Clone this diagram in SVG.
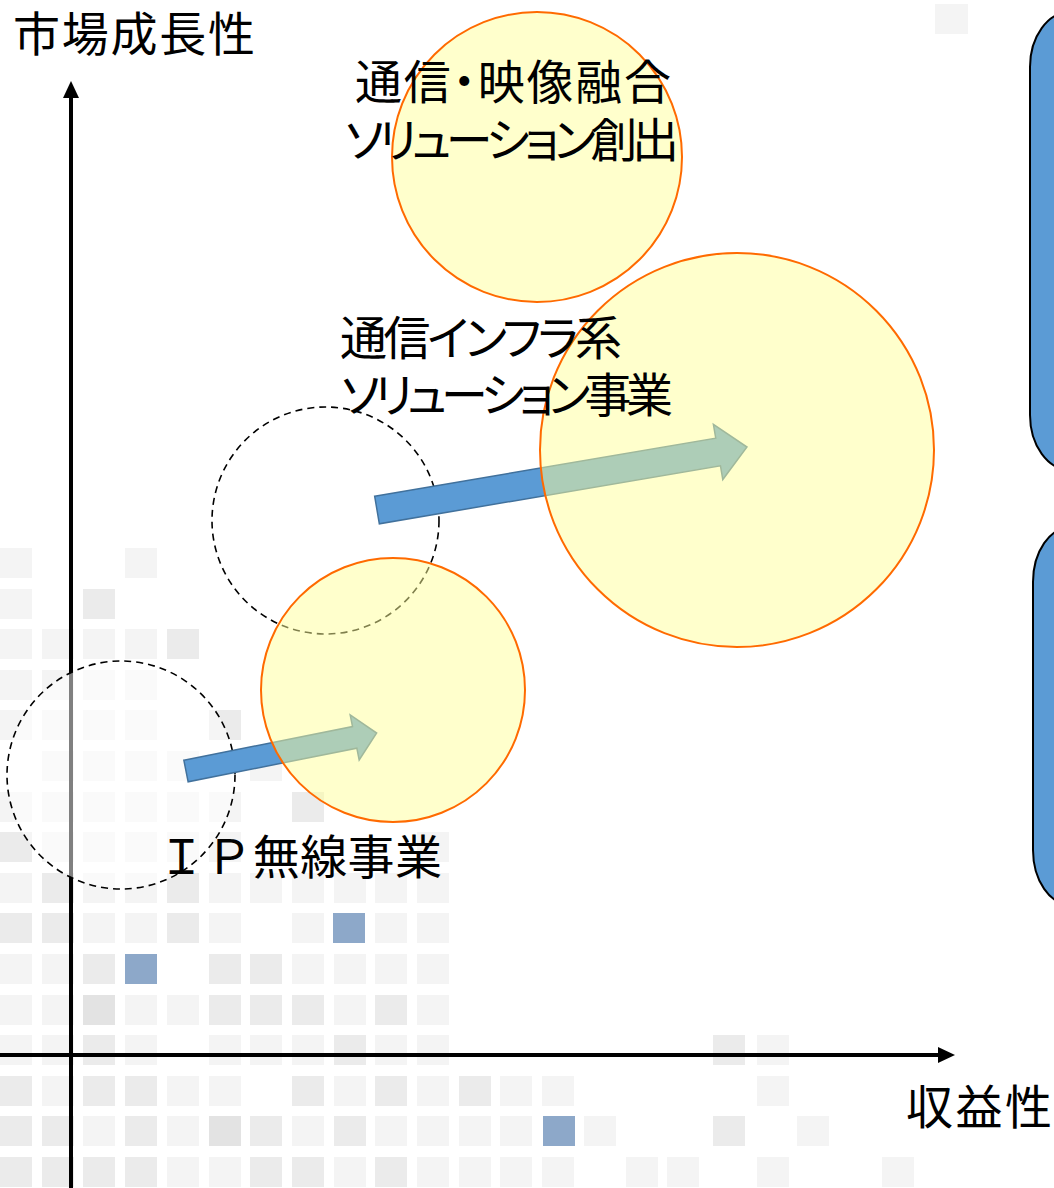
<svg xmlns="http://www.w3.org/2000/svg" width="1054" height="1188" viewBox="0 0 1054 1188">
<style>
.l{fill:#F4F4F4}.g{fill:#EBEBEB}.d{fill:#E3E3E3}.b{fill:#8DA8C9}
.dash{fill:#FFFFFF;fill-opacity:0.5;stroke:#000;stroke-width:1.6;stroke-dasharray:7 5}
.sun{fill:#FFFF99;fill-opacity:0.5;stroke:#FF6A00;stroke-width:2}
.arr{fill:#5B9BD5;stroke:#41719C;stroke-width:1.5}
.box{fill:#5B9BD5;stroke:#000;stroke-width:2}
text{font-family:"Noto Sans CJK JP","Noto Sans CJK SC",sans-serif;font-size:47px;fill:#000}
.p{font-feature-settings:"palt"}
</style>
<rect width="1054" height="1188" fill="#FFFFFF"/>
<g id="background-grid">
<rect class="l" x="935" y="4" width="33" height="30"/>
<g transform="translate(0,548)">
<rect class="l" x="0" y="0" width="32" height="30"/><rect class="l" x="125" y="0" width="32" height="30"/>
</g>
<g transform="translate(0,589)">
<rect class="l" x="0" y="0" width="32" height="30"/><rect class="g" x="83" y="0" width="32" height="30"/>
</g>
<g transform="translate(0,629)">
<rect class="l" x="0" y="0" width="32" height="30"/><rect class="l" x="42" y="0" width="32" height="30"/><rect class="l" x="83" y="0" width="32" height="30"/><rect class="l" x="125" y="0" width="32" height="30"/><rect class="g" x="167" y="0" width="32" height="30"/>
</g>
<g transform="translate(0,670)">
<rect class="l" x="0" y="0" width="32" height="30"/><rect class="l" x="42" y="0" width="32" height="30"/><rect class="l" x="83" y="0" width="32" height="30"/><rect class="l" x="125" y="0" width="32" height="30"/>
</g>
<g transform="translate(0,710)">
<rect class="l" x="0" y="0" width="32" height="30"/><rect class="l" x="42" y="0" width="32" height="30"/><rect class="l" x="83" y="0" width="32" height="30"/><rect class="l" x="125" y="0" width="32" height="30"/><rect class="g" x="209" y="0" width="32" height="30"/>
</g>
<g transform="translate(0,751)">
<rect class="l" x="42" y="0" width="32" height="30"/><rect class="l" x="83" y="0" width="32" height="30"/><rect class="l" x="125" y="0" width="32" height="30"/><rect class="l" x="167" y="0" width="32" height="30"/><rect class="l" x="250" y="0" width="32" height="30"/>
</g>
<g transform="translate(0,792)">
<rect class="l" x="0" y="0" width="32" height="30"/><rect class="l" x="42" y="0" width="32" height="30"/><rect class="l" x="83" y="0" width="32" height="30"/><rect class="l" x="125" y="0" width="32" height="30"/><rect class="l" x="167" y="0" width="32" height="30"/><rect class="l" x="209" y="0" width="32" height="30"/><rect class="g" x="292" y="0" width="32" height="30"/>
</g>
<g transform="translate(0,832)">
<rect class="g" x="0" y="0" width="32" height="30"/><rect class="l" x="42" y="0" width="32" height="30"/><rect class="l" x="83" y="0" width="32" height="30"/><rect class="l" x="125" y="0" width="32" height="30"/><rect class="l" x="167" y="0" width="32" height="30"/><rect class="l" x="209" y="0" width="32" height="30"/><rect class="l" x="417" y="0" width="32" height="30"/>
</g>
<g transform="translate(0,873)">
<rect class="l" x="0" y="0" width="32" height="30"/><rect class="g" x="42" y="0" width="32" height="30"/><rect class="l" x="83" y="0" width="32" height="30"/><rect class="l" x="125" y="0" width="32" height="30"/><rect class="g" x="167" y="0" width="32" height="30"/><rect class="l" x="209" y="0" width="32" height="30"/><rect class="l" x="250" y="0" width="32" height="30"/><rect class="l" x="292" y="0" width="32" height="30"/><rect class="l" x="334" y="0" width="32" height="30"/><rect class="l" x="375" y="0" width="32" height="30"/><rect class="l" x="417" y="0" width="32" height="30"/>
</g>
<g transform="translate(0,913)">
<rect class="g" x="0" y="0" width="32" height="30"/><rect class="g" x="42" y="0" width="32" height="30"/><rect class="l" x="83" y="0" width="32" height="30"/><rect class="l" x="125" y="0" width="32" height="30"/><rect class="g" x="167" y="0" width="32" height="30"/><rect class="l" x="209" y="0" width="32" height="30"/><rect class="l" x="292" y="0" width="32" height="30"/><rect class="b" x="333" y="0" width="32" height="30"/><rect class="l" x="375" y="0" width="32" height="30"/><rect class="l" x="417" y="0" width="32" height="30"/>
</g>
<g transform="translate(0,954)">
<rect class="l" x="0" y="0" width="32" height="30"/><rect class="l" x="42" y="0" width="32" height="30"/><rect class="g" x="83" y="0" width="32" height="30"/><rect class="b" x="125" y="0" width="32" height="30"/><rect class="g" x="209" y="0" width="32" height="30"/><rect class="g" x="250" y="0" width="32" height="30"/><rect class="l" x="292" y="0" width="32" height="30"/><rect class="l" x="334" y="0" width="32" height="30"/><rect class="l" x="375" y="0" width="32" height="30"/><rect class="l" x="417" y="0" width="32" height="30"/>
</g>
<g transform="translate(0,995)">
<rect class="l" x="0" y="0" width="32" height="30"/><rect class="l" x="42" y="0" width="32" height="30"/><rect class="d" x="83" y="0" width="32" height="30"/><rect class="l" x="125" y="0" width="32" height="30"/><rect class="l" x="167" y="0" width="32" height="30"/><rect class="g" x="209" y="0" width="32" height="30"/><rect class="g" x="250" y="0" width="32" height="30"/><rect class="g" x="292" y="0" width="32" height="30"/><rect class="l" x="334" y="0" width="32" height="30"/><rect class="g" x="375" y="0" width="32" height="30"/><rect class="l" x="417" y="0" width="32" height="30"/>
</g>
<g transform="translate(0,1035)">
<rect class="l" x="0" y="0" width="32" height="30"/><rect class="l" x="42" y="0" width="32" height="30"/><rect class="g" x="83" y="0" width="32" height="30"/><rect class="l" x="125" y="0" width="32" height="30"/><rect class="l" x="209" y="0" width="32" height="30"/><rect class="l" x="250" y="0" width="32" height="30"/><rect class="l" x="292" y="0" width="32" height="30"/><rect class="g" x="334" y="0" width="32" height="30"/><rect class="l" x="375" y="0" width="32" height="30"/><rect class="l" x="417" y="0" width="32" height="30"/><rect class="g" x="713" y="0" width="32" height="30"/><rect class="l" x="757" y="0" width="32" height="30"/>
</g>
<g transform="translate(0,1076)">
<rect class="g" x="0" y="0" width="32" height="30"/><rect class="l" x="42" y="0" width="32" height="30"/><rect class="g" x="83" y="0" width="32" height="30"/><rect class="g" x="125" y="0" width="32" height="30"/><rect class="l" x="167" y="0" width="32" height="30"/><rect class="l" x="209" y="0" width="32" height="30"/><rect class="g" x="292" y="0" width="32" height="30"/><rect class="l" x="334" y="0" width="32" height="30"/><rect class="g" x="375" y="0" width="32" height="30"/><rect class="l" x="417" y="0" width="32" height="30"/><rect class="g" x="459" y="0" width="32" height="30"/><rect class="l" x="500" y="0" width="32" height="30"/><rect class="l" x="542" y="0" width="32" height="30"/><rect class="l" x="757" y="0" width="32" height="30"/>
</g>
<g transform="translate(0,1116)">
<rect class="g" x="0" y="0" width="32" height="30"/><rect class="g" x="42" y="0" width="32" height="30"/><rect class="l" x="83" y="0" width="32" height="30"/><rect class="g" x="125" y="0" width="32" height="30"/><rect class="l" x="167" y="0" width="32" height="30"/><rect class="d" x="209" y="0" width="32" height="30"/><rect class="g" x="250" y="0" width="32" height="30"/><rect class="l" x="292" y="0" width="32" height="30"/><rect class="g" x="334" y="0" width="32" height="30"/><rect class="l" x="375" y="0" width="32" height="30"/><rect class="l" x="417" y="0" width="32" height="30"/><rect class="l" x="459" y="0" width="32" height="30"/><rect class="l" x="500" y="0" width="32" height="30"/><rect class="b" x="543" y="0" width="32" height="30"/><rect class="l" x="584" y="0" width="32" height="30"/><rect class="g" x="713" y="0" width="32" height="30"/><rect class="l" x="797" y="0" width="32" height="30"/>
</g>
<g transform="translate(0,1157)">
<rect class="g" x="0" y="0" width="32" height="30"/><rect class="g" x="42" y="0" width="32" height="30"/><rect class="g" x="83" y="0" width="32" height="30"/><rect class="g" x="125" y="0" width="32" height="30"/><rect class="l" x="167" y="0" width="32" height="30"/><rect class="l" x="209" y="0" width="32" height="30"/><rect class="g" x="250" y="0" width="32" height="30"/><rect class="g" x="292" y="0" width="32" height="30"/><rect class="l" x="334" y="0" width="32" height="30"/><rect class="g" x="375" y="0" width="32" height="30"/><rect class="l" x="417" y="0" width="32" height="30"/><rect class="l" x="459" y="0" width="32" height="30"/><rect class="l" x="500" y="0" width="32" height="30"/><rect class="l" x="542" y="0" width="32" height="30"/><rect class="l" x="626" y="0" width="32" height="30"/><rect class="l" x="667" y="0" width="32" height="30"/><rect class="l" x="757" y="0" width="32" height="30"/><rect class="l" x="882" y="0" width="32" height="30"/>
</g>
</g>
<g id="connectors">
<g id="axis-y"><line x1="71" y1="96" x2="71" y2="1188" stroke="#000" stroke-width="4"/><polygon points="71,81 63,98 79,98" fill="#000"/></g>
<g id="axis-x"><line x1="0" y1="1055" x2="940" y2="1055" stroke="#000" stroke-width="4"/><polygon points="955,1055 938,1047 938,1063" fill="#000"/></g>
</g>
<g id="node-ip-before"><circle class="dash" cx="121" cy="775" r="114"/></g>
<g id="node-infra-before"><circle class="dash" cx="325.5" cy="520.5" r="113.5"/></g>
<g id="connectors-arrows">
<polygon class="arr" transform="translate(186,771) rotate(-11.27)" points="0,-11 172,-11 172,-23 194.4,0 172,23 172,11 0,11"/>
<polygon class="arr" transform="translate(377,510) rotate(-9.66)" points="0,-14 346,-14 346,-28 375.3,0 346,28 346,14 0,14"/>
</g>
<g id="node-ip-after"><circle class="sun" cx="393" cy="690" r="132"/></g>
<g id="node-infra-after"><circle class="sun" cx="737" cy="450" r="197"/></g>
<g id="node-fusion"><circle class="sun" cx="537" cy="157" r="145"/></g>
<g id="side-boxes">
<rect id="box-top" class="box" x="1030" y="12" width="80" height="458" rx="40" ry="55"/>
<rect id="box-bottom" class="box" x="1033" y="527" width="80" height="378" rx="38" ry="55"/>
</g>
<g id="labels">
<text x="13" y="51" textLength="242">市場成長性</text>
<text x="906" y="1124" textLength="146">収益性</text>
<text class="p" x="355" y="99" textLength="316">通信・映像融合</text>
<text class="p" x="345" y="157" textLength="334">ソリューション創出</text>
<text class="p" x="340" y="355" textLength="282">通信インフラ系</text>
<text class="p" x="341" y="412" textLength="332">ソリューション事業</text>
<text x="158" y="874" textLength="284">ＩＰ無線事業</text>
</g>
</svg>
